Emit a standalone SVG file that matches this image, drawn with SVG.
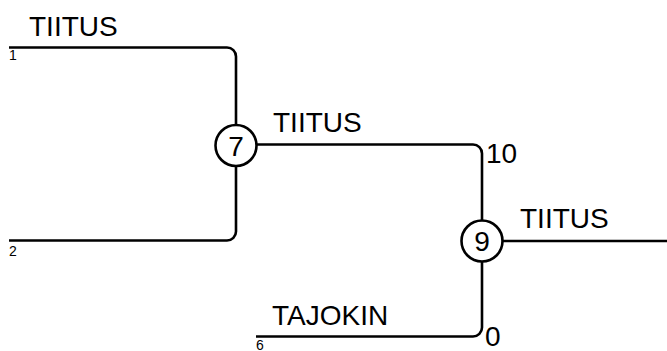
<svg xmlns="http://www.w3.org/2000/svg" width="667" height="351" viewBox="0 0 667 351">
<style>
.edge{fill:none;stroke:#000;stroke-width:2.6}
.node{fill:#fff;stroke:#000;stroke-width:2.6}
.lbl{font-family:"Liberation Sans",Arial,sans-serif;font-size:28px;fill:#000}
.num{font-family:"Liberation Sans",Arial,sans-serif;font-size:14px;fill:#000}
.nt{font-family:"Liberation Sans",Arial,sans-serif;font-size:28px;fill:#000;text-anchor:middle}
</style>
<rect width="667" height="351" fill="#fff"/>
<g id="connectors">
<path class="edge" d="M9,47.5 H227 A9,9 0 0 1 236,56.5 V125"/>
<path class="edge" d="M9,240.5 H227 A9,9 0 0 0 236,231.5 V166"/>
<path class="edge" d="M256.5,144.5 H473 A9,9 0 0 1 482,153.5 V220.5"/>
<path class="edge" d="M256,336.5 H473 A9,9 0 0 0 482,327.5 V261.5"/>
<path class="edge" d="M502.5,241 H667"/>
</g>
<g id="labels">
<text class="lbl" x="29" y="36">TIITUS</text>
<text class="num" x="9" y="60">1</text>
<text class="num" x="9" y="256">2</text>
<text class="lbl" x="273" y="132">TIITUS</text>
<text class="lbl" x="486" y="163">10</text>
<text class="lbl" x="520" y="228">TIITUS</text>
<text class="lbl" x="272" y="325">TAJOKIN</text>
<text class="num" x="256" y="350">6</text>
<text class="lbl" x="485" y="346">0</text>
</g>
<g id="node-7">
<circle class="node" cx="236" cy="145.5" r="20.5"/>
<text class="nt" x="236" y="155.5">7</text>
</g>
<g id="node-9">
<circle class="node" cx="482" cy="241" r="20.5"/>
<text class="nt" x="482" y="251">9</text>
</g>
</svg>
